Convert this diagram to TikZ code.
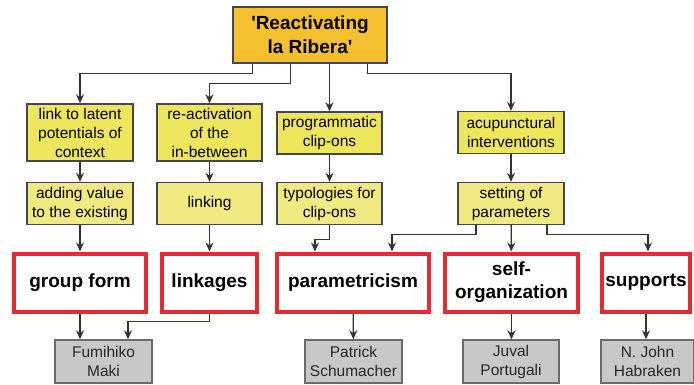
\documentclass[tikz,border=0pt]{standalone}
\usepackage{fontspec}
\setmainfont{Liberation Sans}
\usetikzlibrary{shapes,arrows.meta,positioning,calc}
\definecolor{ribgold}{RGB}{245,192,48}
\definecolor{ribyellow}{RGB}{237,230,92}
\definecolor{ribpale}{RGB}{240,234,128}
\definecolor{ribred}{RGB}{226,44,52}
\definecolor{ribgray}{RGB}{200,200,200}
\definecolor{ribline}{RGB}{70,70,70}

\tikzset{
  concept/.style={draw=ribline, line width=1.4pt, fill=ribyellow, align=center, inner sep=1pt,
    font=\fontsize{15.5}{19}\selectfont, minimum height=42pt},
  tool/.style={concept, fill=ribpale},
  theory/.style={draw=ribred, line width=4pt, fill=white, align=center, inner sep=1pt,
    font=\fontsize{19}{23}\selectfont\bfseries, minimum height=58pt},
  author/.style={draw=ribline!80, line width=1.4pt, fill=ribgray, align=center, inner sep=1pt,
    font=\fontsize{15.5}{19}\selectfont, text=black!85, minimum height=43pt},
  arr/.style={draw=black!80, line width=1.3pt, -{Stealth[length=9pt,width=8pt]}}
}

\begin{document}
\begin{tikzpicture}[x=1pt, y=-1pt]
				\useasboundingbox (0,0) rectangle (694,385);
				
				% Project title
				\node[draw=ribline, line width=1.4pt, fill=ribgold, align=center,
				  font=\fontsize{19}{24}\selectfont\bfseries, minimum width=154pt, minimum height=56pt] (title) at (310,35) {\textquotesingle Reactivating\\la Ribera\textquotesingle};
				
				% Strategies
				\node[concept, minimum width=106pt, minimum height=57pt] (latent) at (80,132.5) {link to latent\\potentials of\\context};
				\node[concept, minimum width=105pt, minimum height=57pt] (reactiv) at (209.5,132.5) {re-activation\\of the\\in-between};
				\node[concept, minimum width=105pt] (prog) at (329.5,133) {programmatic\\clip-ons};
				\node[concept, minimum width=106pt] (acu) at (511,132.5) {acupunctural\\interventions};
				
				% Operations
				\node[tool, minimum width=106pt] (adding) at (80,203.5) {adding value\\to the existing};
				\node[tool, minimum width=105pt] (linking) at (209.5,203.5) {linking};
				\node[tool, minimum width=105pt] (typol) at (329.5,203.5) {typologies for\\clip-ons};
				\node[tool, minimum width=106pt] (setting) at (511,203.5) {setting of\\parameters};
				
				% Theories
				\node[theory, minimum width=132pt] (group) at (80,282.5) {group form};
				\node[theory, minimum width=95pt] (linkages) at (209.5,282.5) {linkages};
				\node[theory, minimum width=152pt] (param) at (353,282.5) {parametricism};
				\node[theory, minimum width=133pt] (selforg) at (511.5,282.5) {self-\\organization};
				\node[theory, minimum width=88pt] (supports) at (646,282.5) {supports};
				
				% Authors
				\node[author, minimum width=97pt] (maki) at (103.5,361.5) {Fumihiko\\Maki};
				\node[author, minimum width=97pt] (schumacher) at (353.5,361.5) {Patrick\\Schumacher};
				\node[author, minimum width=96pt] (portugali) at (511,361.5) {Juval\\Portugali};
				\node[author, minimum width=93pt] (habraken) at (647.5,361.5) {N. John\\Habraken};
				
				% Title to strategies
				\draw[arr] ([xshift=20pt]title.south west) -- ++(0,10) -| (latent.north);
				\draw[arr] ([xshift=58pt]title.south west) -- ++(0,20) -| (reactiv.north);
				\draw[arr] (title.south -| prog.north) -- (prog.north);
				\draw[arr] ([xshift=-20pt]title.south east) -- ++(0,10) -| (acu.north);
				
				% Strategies to operations
				\draw[arr] (latent) -- (adding);
				\draw[arr] (reactiv) -- (linking);
				\draw[arr] (prog) -- (typol);
				\draw[arr] (acu) -- (setting);
				
				% Operations to theories
				\draw[arr] (adding) -- (group);
				\draw[arr] (linking) -- (linkages);
				\draw[arr] (typol.south) -- ++(0,14) -| ([xshift=-38pt]param.north);
				\draw[arr] ([xshift=-35pt]setting.south) -- ++(0,9) -| ([xshift=39pt]param.north);
				\draw[arr] (setting) -- (selforg);
				\draw[arr] ([xshift=36pt]setting.south) -- ++(0,9) -| ([xshift=2pt]supports.north);
				
				% Theories to authors
				\draw[arr] (group.south) -- (group.south |- maki.north);
				\draw[arr] (linkages.south) -- ++(0,8) -| ([xshift=24.5pt]maki.north);
				\draw[arr] (param) -- (schumacher);
				\draw[arr] (selforg.south) -- (selforg.south |- portugali.north);
				\draw[arr] (supports.south) -- (supports.south |- habraken.north);
			\end{tikzpicture}
\end{document}
